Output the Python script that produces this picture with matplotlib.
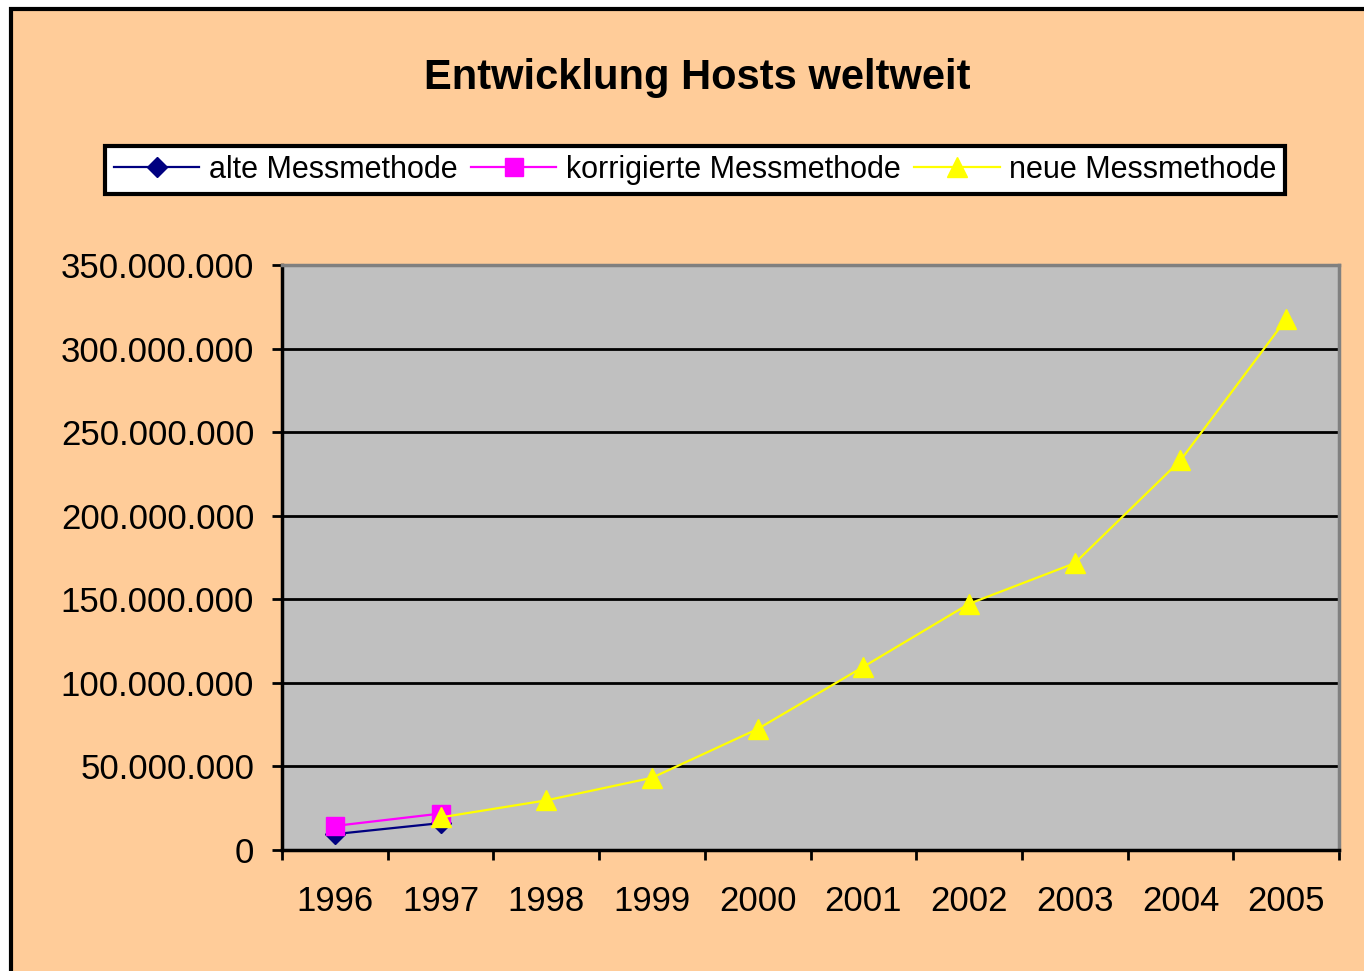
#Entwicklung der Hosts weltweit (ISC Zahlen, alte/korrigierte/neue Messmethode)
import matplotlib.pyplot as plt
from matplotlib.ticker import FuncFormatter, FixedLocator
from matplotlib.patches import Rectangle

plt.rcParams['font.family'] = ['Liberation Sans', 'DejaVu Sans']

#Daten
jahre = ['1996', '1997', '1998', '1999', '2000', '2001', '2002', '2003', '2004', '2005']
alte_messmethode = [9.5e6, 16.1e6]
korrigierte_messmethode = [14.4e6, 21.8e6]
neue_messmethode = [19.5e6, 29.7e6, 43.2e6, 72.4e6, 109.6e6, 147.3e6, 171.6e6, 233.1e6, 317.6e6]

x = list(range(len(jahre)))

fig = plt.figure(figsize=(13.64, 9.71), dpi=100)
fig.patch.set_facecolor('white')
# orange Hintergrund mit schwarzem Rahmen (rechts/unten abgeschnitten)
fig.patches.append(Rectangle((11/1364, -0.1), 1.0, 1.1 - 9/971, transform=fig.transFigure,
                             facecolor='#FFCC99', edgecolor='black', linewidth=3, zorder=-10))

ax = fig.add_axes([282/1364, 1 - 850/971, (1339 - 282)/1364, (850 - 265)/971])
ax.set_facecolor('#C0C0C0')

ax.plot(x[:2], alte_messmethode, color='#000080', marker='D', markersize=10, linewidth=1.6,
        label='alte Messmethode', zorder=3)
ax.plot(x[:2], korrigierte_messmethode, color='#FF00FF', marker='s', markersize=13, linewidth=1.6,
        label='korrigierte Messmethode', zorder=3)
ax.plot(x[1:], neue_messmethode, color='#FFFF00', marker='^', markersize=15, linewidth=1.6,
        label='neue Messmethode', zorder=4)

ax.set_xlim(-0.5, len(jahre) - 0.5)
ax.set_ylim(0, 350e6)
ax.set_yticks([i * 50e6 for i in range(8)])
ax.yaxis.set_major_formatter(FuncFormatter(lambda v, p: f'{int(v):,}'.replace(',', '.')))
ax.grid(axis='y', color='black', linewidth=2)
ax.set_axisbelow(True)

ax.set_xticks(x)
ax.set_xticklabels(jahre)
ax.xaxis.set_minor_locator(FixedLocator([i - 0.5 for i in range(len(jahre) + 1)]))
ax.tick_params(axis='x', which='major', length=0, pad=25, labelsize=25)
ax.tick_params(axis='x', which='minor', length=7, width=2, direction='out')
ax.tick_params(axis='y', length=7, width=2, pad=13, labelsize=25)

for s in ['left', 'bottom']:
    ax.spines[s].set_color('black')
    ax.spines[s].set_linewidth(2.5)
for s in ['top', 'right']:
    ax.spines[s].set_color('#808080')
    ax.spines[s].set_linewidth(2.5)

fig.text(697/1364, 1 - 78/971, 'Entwicklung Hosts weltweit', ha='center', va='center',
         fontsize=30, fontweight='bold')

leg = fig.legend(loc='center', bbox_to_anchor=(695/1364, 1 - 170/971), ncol=3,
                 fontsize=22, frameon=True, fancybox=False, handlelength=2.8,
                 columnspacing=0.45, handletextpad=0.3, borderpad=0.3)
leg.get_frame().set_edgecolor('black')
leg.get_frame().set_linewidth(3)
leg.get_frame().set_facecolor('white')
leg.get_frame().set_alpha(1)

plt.savefig('out.png', dpi=100)
